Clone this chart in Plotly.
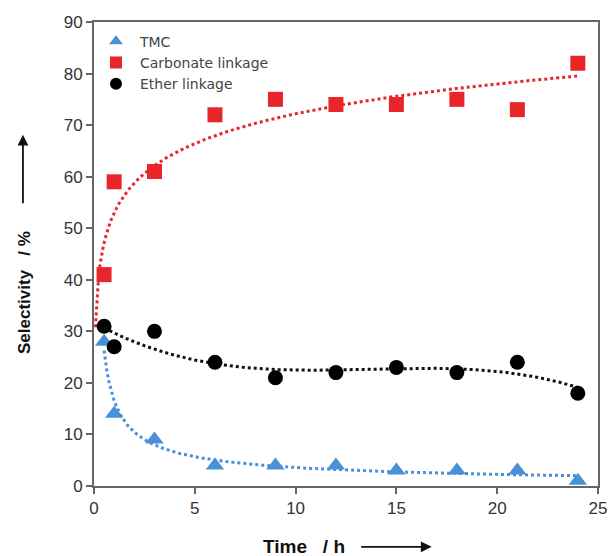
import numpy as np
import plotly.graph_objects as go

time_h = [0.5, 1, 3, 6, 9, 12, 15, 18, 21, 24]
tmc = [28, 14, 9, 4, 4, 4, 3, 3, 3, 1]
carbonate = [41, 59, 61, 72, 75, 74, 74, 75, 73, 82]
ether = [31, 27, 30, 24, 21, 22, 23, 22, 24, 18]

x_arr = np.array(time_h, dtype=float)

# Trendlines (least-squares fits of the data, like spreadsheet trendlines)
# Carbonate: logarithmic
b_c, a_c = np.polyfit(np.log(x_arr), np.array(carbonate, float), 1)
xc = np.linspace(0.07, 24, 300)
yc = a_c + b_c * np.log(xc)
# TMC: power
b_t, ln_a_t = np.polyfit(np.log(x_arr), np.log(np.array(tmc, float)), 1)
xt = np.linspace(0.5, 24, 300)
yt = np.exp(ln_a_t) * xt ** b_t
# Ether: cubic polynomial
pe = np.polyfit(x_arr, np.array(ether, float), 3)
xe = np.linspace(0.5, 24, 300)
ye = np.polyval(pe, xe)

blue = "#4a90d6"
red = "#e8262a"
black = "#000000"

fig = go.Figure()
fig.add_trace(go.Scatter(x=xc, y=yc, mode="lines", line=dict(color=red, width=3, dash="dot"),
                         showlegend=False, hoverinfo="skip"))
fig.add_trace(go.Scatter(x=xe, y=ye, mode="lines", line=dict(color="#111", width=3, dash="dot"),
                         showlegend=False, hoverinfo="skip"))
fig.add_trace(go.Scatter(x=xt, y=yt, mode="lines", line=dict(color=blue, width=3, dash="dot"),
                         showlegend=False, hoverinfo="skip"))

fig.add_trace(go.Scatter(x=time_h, y=tmc, mode="markers", name="TMC",
                         marker=dict(symbol="triangle-up", size=16, color=blue)))
fig.add_trace(go.Scatter(x=time_h, y=carbonate, mode="markers", name="Carbonate linkage",
                         marker=dict(symbol="square", size=15, color=red)))
fig.add_trace(go.Scatter(x=time_h, y=ether, mode="markers", name="Ether linkage",
                         marker=dict(symbol="circle", size=15, color=black)))

tick_font = dict(family="Liberation Sans, Arial, sans-serif", size=17, color="#333")

fig.update_layout(
    template="none",
    width=609, height=556,
    margin=dict(l=94, r=11, t=22, b=70, autoexpand=False),
    paper_bgcolor="white", plot_bgcolor="white",
    legend=dict(x=-0.004, y=0.992, xanchor="left", yanchor="top",
                font=dict(family="DejaVu Sans, sans-serif", size=14, color="#444"),
                bgcolor="rgba(0,0,0,0)", itemsizing="constant", tracegroupgap=0,
                itemwidth=38, traceorder="normal"),
    xaxis=dict(range=[0, 25], tickvals=[0, 5, 10, 15, 20, 25], showgrid=False, zeroline=False,
               automargin=False,
               showline=True, linecolor="#666", linewidth=2, mirror=True,
               ticks="outside", ticklen=6, tickcolor="#666", tickwidth=1.5, tickfont=tick_font),
    yaxis=dict(range=[0, 90], tickvals=list(range(0, 91, 10)), showgrid=False, zeroline=False,
               automargin=False,
               showline=True, linecolor="#666", linewidth=2, mirror=True,
               ticks="outside", ticklen=6, tickcolor="#666", tickwidth=1.5, tickfont=tick_font),
)

fig.add_annotation(text="<b>Selectivity&nbsp;&nbsp;&nbsp;/ %</b>", textangle=-90, xref="paper", yref="paper",
                   x=-0.139, y=0.418, xanchor="center", yanchor="middle", showarrow=False,
                   font=dict(family="Liberation Sans, Arial, sans-serif", size=17, color="#111"))
fig.add_annotation(text="", xref="paper", yref="paper", x=-0.141, y=0.757,
                   ax=0, ay=70, showarrow=True, arrowhead=2, arrowsize=1.2, arrowwidth=1.8,
                   arrowcolor="#111")
fig.add_annotation(text="<b>Time&nbsp;&nbsp;&nbsp;/ h</b>", xref="paper", yref="paper",
                   x=0.417, y=-0.131, xanchor="center", yanchor="middle", showarrow=False,
                   font=dict(family="Liberation Sans, Arial, sans-serif", size=19, color="#111"))
fig.add_annotation(text="", xref="paper", yref="paper", x=0.67, y=-0.131,
                   ax=-72, ay=0, showarrow=True, arrowhead=2, arrowsize=1.2, arrowwidth=1.8,
                   arrowcolor="#111")

fig.write_html("out.html", config={"displayModeBar": False},
               post_script="document.body.style.margin='0px';")
